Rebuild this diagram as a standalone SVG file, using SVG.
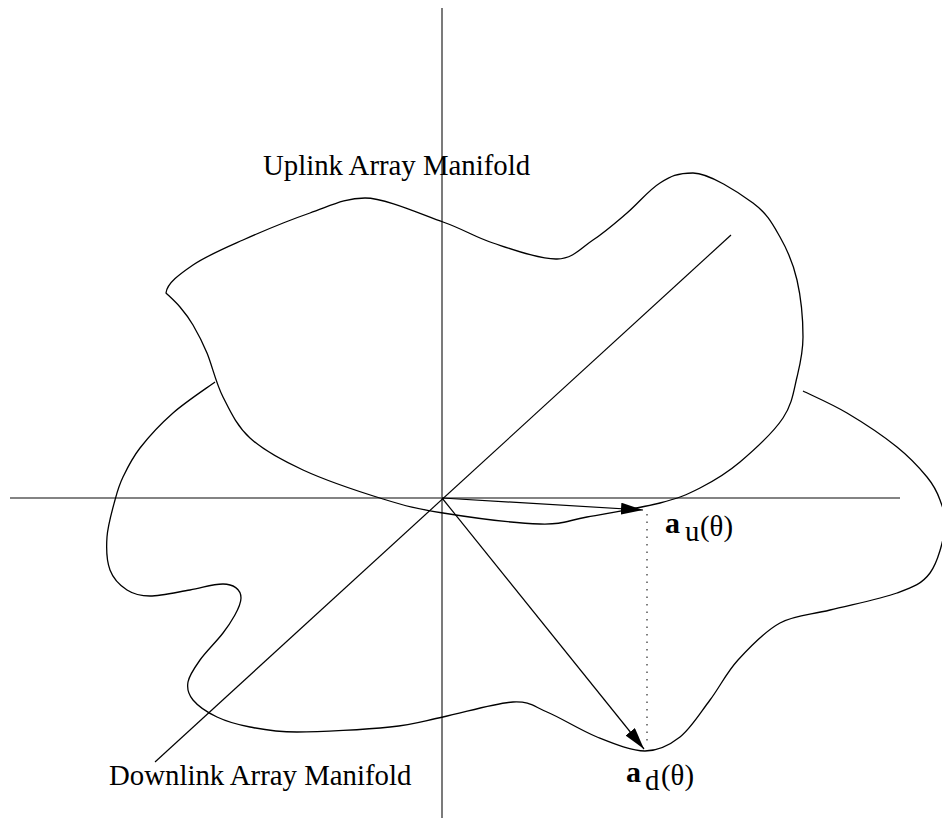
<svg xmlns="http://www.w3.org/2000/svg" width="942" height="820" viewBox="0 0 942 820">
<style>
.axis{stroke:#5a5a5a;stroke-width:1.6;fill:none}
.curve{stroke:#000;stroke-width:1.3;fill:none}
.vec{stroke:#000;stroke-width:1.2;fill:none}
.dot{stroke:#555;stroke-width:1.5;stroke-dasharray:1.5 6;fill:none}
text{font-family:"Liberation Serif","Times New Roman",serif;font-size:28.8px;fill:#000}
.b{font-weight:bold;font-size:30px}
</style>
<defs>
<marker id="ah" markerUnits="userSpaceOnUse" markerWidth="24" markerHeight="14" refX="22" refY="6" orient="auto">
<path d="M0,0 L22,6 L0,12 Z" fill="#000"/>
</marker>
</defs>
<rect width="942" height="820" fill="#fff"/>
<g id="axes">
<line class="axis" x1="442" y1="8" x2="442" y2="818"/>
<line class="axis" x1="10" y1="498" x2="900" y2="498"/>
<line class="vec" x1="731" y1="235" x2="155" y2="762"/>
</g>
<g id="uplink-manifold">
<path class="curve" d="M166,293 C167,283 180.2,273.8 193,265 C205.8,256.2 223.5,248.7 243,240 C262.5,231.3 289.7,220 310,213 C330.3,206 345,198 365,198 C385,198 421.7,214.5 443,222 C464.3,229.5 474,236.8 493,243 C512,249.2 540.3,259.5 557,259 C573.7,258.5 581.3,247.7 593,240 C604.7,232.3 615.8,222.5 627,213 C638.2,203.5 649,189.7 660,183 C671,176.3 677,173 693,173 C709,173 738.5,192.3 753,203 C767.5,213.7 772.7,224.2 780,237 C787.3,249.8 793.2,263.3 797,280 C800.8,296.7 803,320.8 803,337 C803,353.2 800.3,363.5 797,377 C793.7,390.5 792.5,403.8 783,418 C773.5,432.2 753.8,450.3 740,462 C726.2,473.7 713.3,481.2 700,488 C686.7,494.8 678.8,498.2 660,503 C641.2,507.8 607,513.5 587,517 C567,520.5 564,524.7 540,524 C516,523.3 469.2,517.2 443,513 C416.8,508.8 406.3,506.2 383,499 C359.7,491.8 325.2,480.2 303,470 C280.8,459.8 263.3,450.2 250,438 C236.7,425.8 230.2,411.2 223,397 C215.8,382.8 212,365 207,353 C202,341 197.5,332.7 193,325 C188.5,317.3 184.5,312.3 180,307 C175.5,301.7 168.3,295.3 166,293 Z"/>
</g>
<g id="downlink-manifold">
<path class="curve" d="M215,382 C208,387.2 185.5,402 173,413 C160.5,424 148.3,437.3 140,448 C131.7,458.7 127.2,468.3 123,477 C118.8,485.7 117.7,490 115,500 C112.3,510 107.8,525.3 107,537 C106.2,548.7 106.7,561.2 110,570 C113.3,578.8 120.3,585.7 127,590 C133.7,594.3 139.5,596 150,596 C160.5,596 177.8,592 190,590 C202.2,588 212,584 223,584 C233,584 241,589 241,598 C241,607 230,624 223,633 C216.7,641.3 205.8,651.8 200,660 C194.2,668.2 189.2,675.3 188,682 C186.8,688.7 188.2,694.2 193,700 C197.8,705.8 207.5,712.5 217,717 C226.5,721.5 236.7,724.5 250,727 C263.3,729.5 273.7,732 297,732 C320.3,732 365.7,729.5 390,727 C414.3,724.5 422.5,721.2 443,717 C463.5,712.8 495.7,702.8 513,702 C530.3,701.2 533,706.2 547,712 C561,717.8 580.7,730.5 597,737 C613.3,743.5 631.2,751 645,751 C658.8,751 669.2,745.5 680,737 C690.8,728.5 700.3,712.8 710,700 C719.7,687.2 726.3,672.8 738,660 C749.7,647.2 764.7,631.3 780,623 C795.3,614.7 810.5,615 830,610 C849.5,605 880.3,599.2 897,593 C913.7,586.8 922,583.8 930,573 C938,562.2 943.3,540.2 945,528 C946.7,515.8 943,508.5 940,500 C937,491.5 934.2,485.8 927,477 C919.8,468.2 910.3,457.7 897,447 C883.7,436.3 862.7,422.3 847,413 C831.3,403.7 810.3,394.7 803,391"/>
</g>
<g id="connectors">
<line class="vec" x1="442" y1="498" x2="643" y2="510" marker-end="url(#ah)"/>
<line class="vec" x1="442" y1="498" x2="644" y2="749" marker-end="url(#ah)"/>
<line class="dot" x1="647" y1="514" x2="647" y2="746"/>
</g>
<g id="label-uplink"><text x="263" y="175">Uplink Array Manifold</text></g>
<g id="label-downlink"><text x="109" y="785">Downlink Array Manifold</text></g>
<g id="label-au"><text x="665" y="533"><tspan class="b">a</tspan><tspan x="685" y="541">u</tspan><tspan x="700" y="536">(θ)</tspan></text></g>
<g id="label-ad"><text x="626" y="782"><tspan class="b">a</tspan><tspan x="645" y="790">d</tspan><tspan x="661" y="785">(θ)</tspan></text></g>
</svg>
